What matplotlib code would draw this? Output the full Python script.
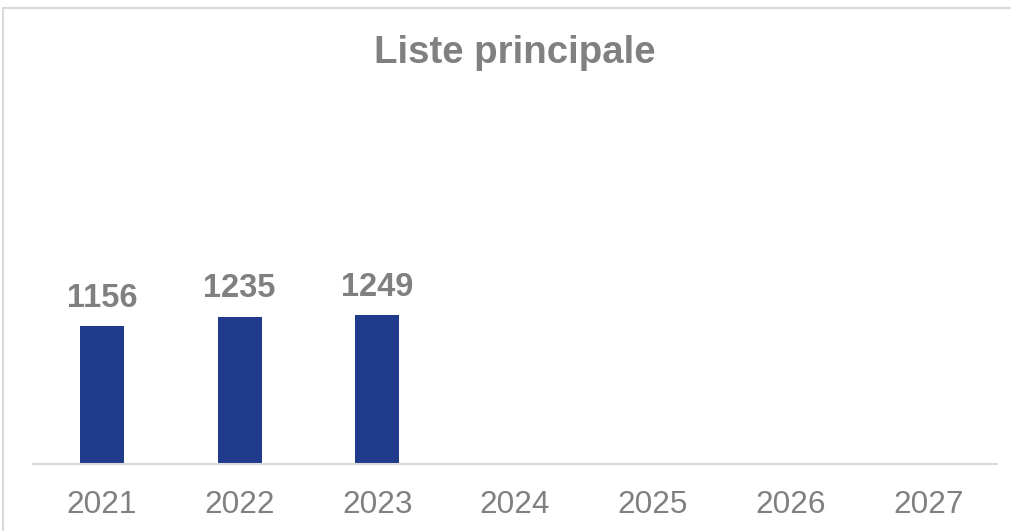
import matplotlib
matplotlib.use("Agg")
import matplotlib.pyplot as plt
from matplotlib.lines import Line2D

plt.rcParams['font.family'] = ['Liberation Sans', 'DejaVu Sans']

years = ["2021", "2022", "2023", "2024", "2025", "2026", "2027"]
values = [1156, 1235, 1249, None, None, None, None]
title = "Liste principale"

W, H = 1012, 531
fig = plt.figure(figsize=(W / 100, H / 100), dpi=100)
ax = fig.add_axes([33 / W, 1 - 464 / H, (997 - 33) / W, 357.6 / H])

bar_color = "#203A8C"
grey = "#808080"
xs = list(range(len(years)))
for x, v in zip(xs, values):
    if v is not None:
        ax.bar(x, v, width=0.32, color=bar_color)
        ax.annotate(str(v), (x, v), xytext=(0, 9), textcoords="offset points",
                    ha="center", va="bottom", fontsize=23.5, fontweight="bold", color=grey)

ax.set_xlim(-0.5, len(years) - 0.5)
ax.set_ylim(0, 3000)
ax.set_xticks(xs)
ax.set_xticklabels(years, fontsize=22.7, color=grey)
ax.tick_params(axis="x", length=0, pad=19)
ax.set_yticks([])
for s in ["top", "right", "left"]:
    ax.spines[s].set_visible(False)
ax.spines["bottom"].set_color("#D9D9D9")
ax.spines["bottom"].set_linewidth(1.5)

fig.text(515 / W, 1 - 53 / H, title, ha="center", va="center",
         fontsize=27.6, fontweight="bold", color=grey)

fig.add_artist(Line2D([3.5 / W, 3.5 / W], [0, 1 - 7.5 / H], transform=fig.transFigure,
                      color="#D9D9D9", linewidth=1.5))
fig.add_artist(Line2D([3.5 / W, 1], [1 - 7.5 / H, 1 - 7.5 / H], transform=fig.transFigure,
                      color="#D9D9D9", linewidth=1.5))

fig.savefig("out.png", dpi=100)
